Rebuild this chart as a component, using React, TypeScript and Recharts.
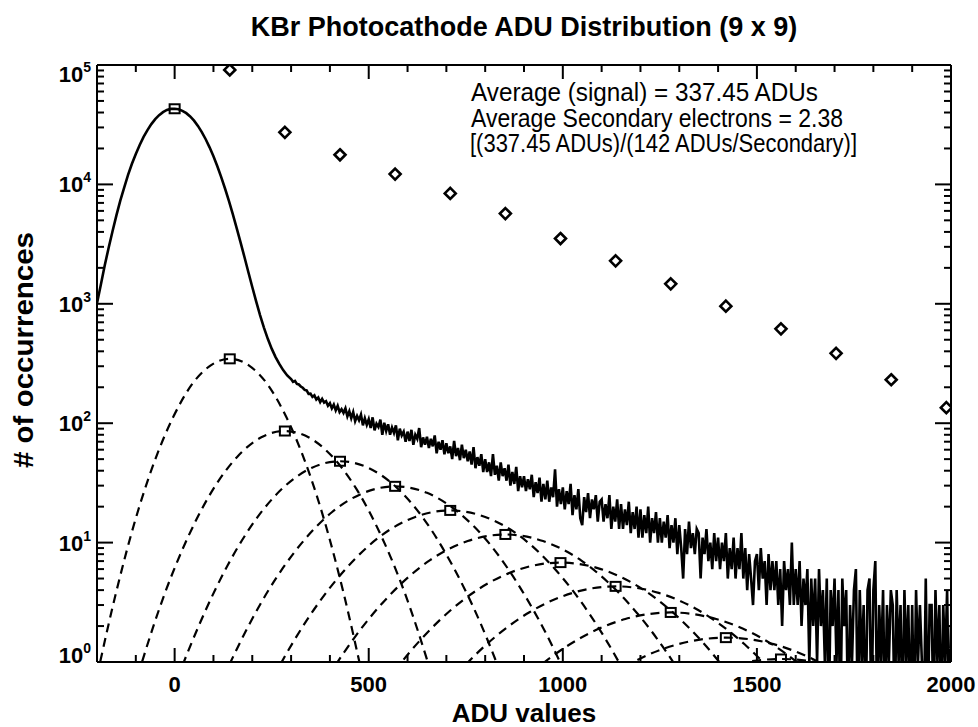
import React from 'react';
import { ComposedChart, Line, XAxis, YAxis } from 'recharts';

const FONT = '"Liberation Sans", Arial, Helvetica, sans-serif';

// ---------- data ----------
// Measured histogram, smooth pedestal part (ADU -200 .. 290, every 10 ADU)
const HIST_CORE_START = -200;
const HIST_CORE_STEP = 10;
const HIST_CORE = [
  1009, 1451, 2100, 2950, 4050, 5500, 7300, 9400, 12000, 14900,
  18000, 21400, 25000, 28500, 32000, 35200, 38000, 40300, 42000, 42900,
  43000, 42600, 41300, 39500, 37100, 34200, 30900, 27440, 23900, 20440,
  17180, 14180, 11520, 9190, 7240, 5610, 4290, 3250, 2455, 1837,
  1383, 1049, 805, 632, 509, 421, 358, 312, 277, 251,
];

// Measured histogram, noisy tail (ADU 300 .. 2000, every 5 ADU); 0 = empty bin
const HIST_TAIL_START = 300;
const HIST_TAIL_STEP = 5;
const HIST_TAIL = [
  234, 222, 226, 213, 211, 203, 198, 190, 188, 176,
  177, 166, 171, 158, 164, 150, 160, 149, 153, 140,
  147, 133, 143, 128, 140, 124, 131, 122, 133, 114,
  126, 110, 124, 104, 115, 106, 118, 96, 110, 97,
  108, 91, 112, 87, 99, 93, 107, 80, 101, 86,
  98, 80, 92, 83, 96, 72, 90, 79, 85, 70,
  85, 71, 88, 66, 80, 74, 91, 63, 76, 66,
  77, 62, 74, 64, 79, 56, 70, 60, 72, 55,
  68, 56, 64, 50, 71, 53, 62, 49, 66, 51,
  60, 48, 58, 45, 63, 42, 52, 44, 55, 39,
  50, 39, 47, 36, 55, 37, 44, 33, 47, 36,
  42, 33, 45, 30, 39, 31, 43, 27, 36, 29,
  36, 27, 34, 28, 37, 24, 32, 26, 35, 22,
  31, 23, 33, 22, 29, 24, 41, 20, 28, 21,
  29, 19, 27, 21, 31, 17, 25, 19, 28, 16,
  14, 24, 18, 26, 16, 23, 19, 25, 15, 22,
  23, 15, 21, 16, 25, 13, 20, 15, 23, 13,
  21, 13, 19, 14, 22, 12, 18, 13, 20, 11,
  19, 11, 17, 12, 20, 10, 16, 12, 18, 10,
  16, 10, 15, 11, 17, 9, 14, 10, 16, 8,
  14, 9, 5, 13, 8, 15, 9, 12, 8, 13,
  12, 5, 11, 8, 13, 7, 10, 6, 12, 7,
  11, 6, 10, 7, 12, 5, 9, 6, 11, 5,
  9, 6, 12, 5, 9, 4, 8, 5, 3, 7,
  8, 4, 9, 5, 7, 3, 8, 4, 7, 4,
  7, 3, 6, 2, 7, 4, 6, 3, 10, 3,
  6, 3, 7, 2, 5, 3, 6, 1, 5, 2,
  5, 1, 6, 2, 4, 1, 5, 0, 4, 2,
  5, 1, 4, 0, 5, 2, 4, 0, 3, 1,
  4, 6, 0, 4, 1, 3, 0, 4, 5, 0,
  4, 7, 0, 3, 1, 4, 0, 3, 1, 4,
  3, 0, 4, 1, 3, 0, 4, 1, 3, 0,
  3, 0, 4, 1, 3, 1, 0, 5, 0, 3,
  3, 0, 4, 1, 3, 0, 3, 1, 4, 0,
  2,
];

// Dashed fitted components (n secondary electrons)
const FIT_1 = [[-200, 0.76], [-151, 3.8], [-102, 15.2], [-53, 46.8], [-4, 112], [44, 210], [93, 305], [142, 346], [191, 305], [240, 210], [288, 112], [337, 46.8], [386, 15.2], [435, 3.8], [484, 0.76]];
const FIT_2 = [[-148, 0.19], [-86, 0.955], [-25, 3.78], [37, 11.6], [99, 27.9], [161, 52.2], [222, 75.9], [284, 86], [346, 75.9], [407, 52.2], [469, 27.9], [531, 11.6], [593, 3.78], [654, 0.955], [716, 0.19]];
const FIT_3 = [[-80, 0.105], [-8, 0.533], [65, 2.11], [137, 6.49], [209, 15.6], [281, 29.1], [354, 42.4], [426, 48], [498, 42.4], [571, 29.1], [643, 15.6], [715, 6.49], [788, 2.11], [860, 0.533], [932, 0.105]];
const FIT_4 = [[-3, 0.065], [79, 0.329], [161, 1.3], [242, 4.0], [324, 9.61], [405, 17.95], [487, 26.1], [568, 29.6], [650, 26.1], [731, 17.95], [813, 9.61], [894, 4.0], [976, 1.3], [1057, 0.329], [1139, 0.065]];
const FIT_5 = [[81, 0.041], [171, 0.207], [261, 0.817], [351, 2.52], [441, 6.04], [530, 11.3], [620, 16.4], [710, 18.6], [800, 16.4], [890, 11.3], [979, 6.04], [1069, 2.52], [1159, 0.817], [1249, 0.207], [1339, 0.041]];
const FIT_6 = [[170, 0.0256], [268, 0.13], [365, 0.514], [462, 1.58], [560, 3.8], [657, 7.1], [755, 10.3], [852, 11.7], [949, 10.3], [1047, 7.1], [1144, 3.8], [1242, 1.58], [1339, 0.514], [1436, 0.13], [1534, 0.0256]];
const FIT_7 = [[263, 0.0149], [367, 0.0755], [472, 0.299], [576, 0.92], [681, 2.21], [785, 4.12], [890, 6.0], [994, 6.8], [1098, 6.0], [1203, 4.12], [1307, 2.21], [1412, 0.92], [1516, 0.299], [1621, 0.0755], [1725, 0.0149]];
const FIT_8 = [[359, 0.0094], [470, 0.0478], [581, 0.189], [692, 0.582], [803, 1.4], [914, 2.61], [1025, 3.79], [1136, 4.3], [1247, 3.79], [1358, 2.61], [1469, 1.4], [1580, 0.582], [1691, 0.189], [1802, 0.0478], [1913, 0.0094]];
const FIT_9 = [[457, 0.0057], [575, 0.0289], [692, 0.114], [809, 0.352], [926, 0.844], [1044, 1.58], [1161, 2.29], [1278, 2.6], [1395, 2.29], [1513, 1.58], [1630, 0.844], [1747, 0.352], [1864, 0.114], [1982, 0.0289], [2099, 0.0057]];
const FIT_10 = [[558, 0.0035], [681, 0.0178], [804, 0.0703], [927, 0.216], [1051, 0.52], [1174, 0.97], [1297, 1.41], [1420, 1.6], [1543, 1.41], [1666, 0.97], [1789, 0.52], [1913, 0.216], [2036, 0.0703], [2159, 0.0178], [2282, 0.0035]];
const FIT_11 = [[660, 0.0023], [789, 0.0118], [918, 0.0465], [1047, 0.143], [1176, 0.344], [1304, 0.643], [1433, 0.935], [1562, 1.06], [1691, 0.935], [1820, 0.643], [1948, 0.344], [2077, 0.143], [2206, 0.0465], [2335, 0.0118], [2464, 0.0023]];

// Peak markers (squares): pedestal + each component
const PEAK_X = [0, 142, 284, 426, 568, 710, 852, 994, 1136, 1278, 1420, 1562];
const PEAK_Y = [43000, 346, 86, 48, 29.6, 18.6, 11.7, 6.8, 4.3, 2.6, 1.6, 1.06];

// Diamonds
const DIAMOND_X = [142, 284, 426, 568, 710, 852, 994, 1136, 1278, 1420, 1562, 1704, 1846, 1988];
const DIAMOND_Y = [91000, 27300, 17700, 12200, 8400, 5700, 3520, 2290, 1470, 955, 617, 385, 231, 135];

// Axis ticks
const X_DOMAIN = [-200, 2000];
const X_TICKS = [-100, 0, 100, 200, 300, 400, 500, 600, 700, 800, 900, 1000, 1100, 1200, 1300, 1400, 1500, 1600, 1700, 1800, 1900, 2000];
const X_MAJOR = [0, 500, 1000, 1500, 2000];
const Y_DOMAIN = [1, 100000];
const Y_DECADES = [1, 10, 100, 1000, 10000];
const Y_MINOR_STEPS = [1, 2, 3, 4, 5, 6, 7, 8, 9];
const Y_TICKS = [...Y_DECADES.flatMap((d) => Y_MINOR_STEPS.map((m) => m * d)), 100000];

const TITLE = 'KBr Photocathode ADU Distribution (9 x 9)';
const X_LABEL = 'ADU values';
const Y_LABEL = '# of occurrences';
const NOTE = [
  'Average (signal) = 337.45 ADUs',
  'Average Secondary electrons = 2.38',
  '[(337.45 ADUs)/(142 ADUs/Secondary)]',
];

// ---------- build tables ----------
const histData = [
  ...HIST_CORE.map((v, i) => ({ x: HIST_CORE_START + i * HIST_CORE_STEP, y: v })),
  ...HIST_TAIL.map((v, i) => ({ x: HIST_TAIL_START + i * HIST_TAIL_STEP, y: Math.max(v, 0.3) })),
];
const FITS = [FIT_1, FIT_2, FIT_3, FIT_4, FIT_5, FIT_6, FIT_7, FIT_8, FIT_9, FIT_10, FIT_11].map((f) =>
  f.map(([x, y]) => ({ x, y }))
);
const peakData = PEAK_X.map((x, i) => ({ x, y: PEAK_Y[i] }));
const diamondData = DIAMOND_X.map((x, i) => ({ x, y: DIAMOND_Y[i] }));

// ---------- tick renderers ----------
const isDecade = (v: number) => Math.abs(Math.log10(v) - Math.round(Math.log10(v))) < 1e-9;

const XTick = (props: any, top: boolean) => {
  const { x, y, payload } = props;
  const v = payload.value;
  const major = X_MAJOR.includes(v);
  const len = major ? 14 : 7;
  return (
    <g>
      <line x1={x} x2={x} y1={y} y2={top ? y + len : y - len} stroke="#000" strokeWidth={2} />
      {!top && major && (
        <text x={x} y={y + 30} textAnchor="middle" fontFamily={FONT} fontWeight="bold" fontSize={22} fill="#000">
          {v}
        </text>
      )}
    </g>
  );
};

const YTick = (props: any, right: boolean) => {
  const { x, y, payload } = props;
  const v = payload.value;
  const major = isDecade(v);
  const len = major ? 16 : 7;
  const e = Math.round(Math.log10(v));
  const shift = e === 5 ? 9 : e === 0 ? -7 : 0;
  return (
    <g>
      <line x1={x} x2={right ? x - len : x + len} y1={y} y2={y} stroke="#000" strokeWidth={2} />
      {!right && major && (
        <text x={x - 6} y={y + 8 + shift} textAnchor="end" fontFamily={FONT} fontWeight="bold" fontSize={22} fill="#000">
          10
          <tspan dy={-10} fontSize={14}>
            {e}
          </tspan>
        </text>
      )}
    </g>
  );
};

const SquareDot = (props: any) => {
  const { cx, cy, index } = props;
  if (cx == null || cy == null) return <g key={`sq-${index}`} />;
  return <rect key={`sq-${index}`} x={cx - 5} y={cy - 4.5} width={10} height={9} fill="none" stroke="#000" strokeWidth={2} />;
};

const DiamondDot = (props: any) => {
  const { cx, cy, index } = props;
  if (cx == null || cy == null) return <g key={`dm-${index}`} />;
  const r = 5.5;
  return (
    <path
      key={`dm-${index}`}
      d={`M${cx},${cy - r}L${cx + r},${cy}L${cx},${cy + r}L${cx - r},${cy}Z`}
      fill="#fff"
      stroke="#000"
      strokeWidth={2.6}
    />
  );
};

const axisLine = { stroke: '#000', strokeWidth: 2 };

export default function App() {
  return (
    <div style={{ position: 'absolute', left: 0, top: 0, width: 978, height: 727, background: '#fff' }}>
      <ComposedChart width={978} height={727} margin={{ top: 55, right: 17, bottom: 25, left: 37 }}>
        <XAxis
          xAxisId="b"
          dataKey="x"
          type="number"
          orientation="bottom"
          domain={X_DOMAIN}
          allowDataOverflow
          ticks={X_TICKS}
          interval={0}
          tickSize={0}
          tickMargin={0}
          tickLine={false}
          axisLine={axisLine}
          height={40}
          tick={(p: any) => XTick(p, false)}
        />
        <XAxis
          xAxisId="t"
          dataKey="x"
          type="number"
          orientation="top"
          domain={X_DOMAIN}
          allowDataOverflow
          ticks={X_TICKS}
          interval={0}
          tickSize={0}
          tickMargin={0}
          tickLine={false}
          axisLine={axisLine}
          height={10}
          tick={(p: any) => XTick(p, true)}
        />
        <YAxis
          yAxisId="l"
          type="number"
          scale="log"
          orientation="left"
          domain={Y_DOMAIN}
          allowDataOverflow
          ticks={Y_TICKS}
          interval={0}
          tickSize={0}
          tickMargin={0}
          tickLine={false}
          axisLine={axisLine}
          width={60}
          tick={(p: any) => YTick(p, false)}
        />
        <YAxis
          yAxisId="r"
          type="number"
          scale="log"
          orientation="right"
          domain={Y_DOMAIN}
          allowDataOverflow
          ticks={Y_TICKS}
          interval={0}
          tickSize={0}
          tickMargin={0}
          tickLine={false}
          axisLine={axisLine}
          width={10}
          tick={(p: any) => YTick(p, true)}
        />
        {FITS.map((d, i) => (
          <Line
            key={`fit-${i}`}
            xAxisId="b"
            yAxisId="l"
            data={d}
            dataKey="y"
            type="monotone"
            stroke="#000"
            strokeWidth={2.2}
            strokeDasharray="9 6"
            dot={false}
            activeDot={false}
            isAnimationActive={false}
          />
        ))}
        <Line
          xAxisId="b"
          yAxisId="l"
          data={histData}
          dataKey="y"
          type="linear"
          stroke="#000"
          strokeWidth={2.6}
          dot={false}
          activeDot={false}
          isAnimationActive={false}
        />
        <Line
          xAxisId="b"
          yAxisId="l"
          data={peakData}
          dataKey="y"
          stroke="none"
          strokeWidth={0}
          dot={SquareDot}
          activeDot={false}
          isAnimationActive={false}
        />
        <Line
          xAxisId="t"
          yAxisId="r"
          data={diamondData}
          dataKey="y"
          stroke="none"
          strokeWidth={0}
          dot={DiamondDot}
          activeDot={false}
          isAnimationActive={false}
        />
      </ComposedChart>
      <svg width={978} height={727} style={{ position: 'absolute', left: 0, top: 0, pointerEvents: 'none' }}>
        <text x={524} y={36} textAnchor="middle" fontFamily={FONT} fontWeight="bold" fontSize={27} fill="#000">
          {TITLE}
        </text>
        <text x={471} y={101} fontFamily={FONT} fontSize={25} fill="#000" textLength={347} lengthAdjust="spacingAndGlyphs">
          {NOTE[0]}
        </text>
        <text x={471} y={126.5} fontFamily={FONT} fontSize={25} fill="#000" textLength={372} lengthAdjust="spacingAndGlyphs">
          {NOTE[1]}
        </text>
        <text x={470} y={152} fontFamily={FONT} fontSize={25} fill="#000" textLength={387} lengthAdjust="spacingAndGlyphs">
          {NOTE[2]}
        </text>
        <text
          transform="translate(33,350) rotate(-90)"
          textAnchor="middle"
          fontFamily={FONT}
          fontWeight="bold"
          fontSize={28}
          fill="#000"
          textLength={236}
          lengthAdjust="spacingAndGlyphs"
        >
          {Y_LABEL}
        </text>
        <text x={524} y={722} textAnchor="middle" fontFamily={FONT} fontWeight="bold" fontSize={26} fill="#000">
          {X_LABEL}
        </text>
      </svg>
    </div>
  );
}
